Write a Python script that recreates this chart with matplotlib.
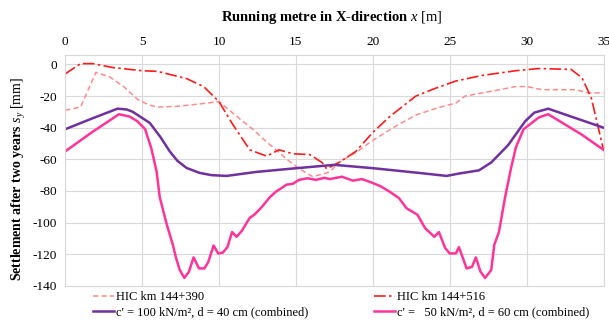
import matplotlib.pyplot as plt

plt.rcParams["font.family"] = ["Liberation Serif", "DejaVu Serif"]
plt.rcParams["mathtext.fontset"] = "custom"
plt.rcParams["mathtext.rm"] = "Liberation Serif"
plt.rcParams["mathtext.it"] = "Liberation Serif:italic"
plt.rcParams["mathtext.bf"] = "Liberation Serif:bold"
plt.rcParams["axes.unicode_minus"] = False

# measured settlements, HIC km 144+390
hic390_x = [0, 1.0, 2.0, 2.9, 3.8, 4.7, 5.4, 6.0, 7.3, 8.75, 10.0, 11.3, 12.2, 13.1,
            14.6, 15.4, 16.1, 17.2, 17.8, 19.0, 20.0, 21.5, 22.8, 24.2, 25.4, 26.0,
            27.7, 29.3, 30.0, 31.0, 33.2, 34.0, 35.0]
hic390_y = [-29, -27, -5, -8, -14, -22, -25.5, -27, -26.5, -25, -23.5, -34, -41, -49,
            -61.5, -67, -71, -68, -62, -55, -48, -39, -32, -27.5, -24.5, -20,
            -17, -14, -14, -16, -16, -18, -18]

# measured settlements, HIC km 144+516
hic516_x = [0, 1.0, 1.8, 3.1, 5.0, 6.0, 7.9, 9.0, 10.0, 10.9, 12.0, 13.1, 13.9, 14.8,
            15.9, 16.7, 17.0, 17.8, 18.9, 20.0, 21.1, 22.8, 24.1, 25.4, 27.1, 29.3,
            30.8, 32.9, 33.6, 34.2, 35.0]
hic516_y = [-6, 0.5, 0.5, -2, -4, -4.4, -9, -14, -23.5, -38, -54, -58, -54, -56.5,
            -57, -62, -66, -62, -55, -43, -33, -20, -15, -10.5, -7, -4,
            -2.6, -3.2, -8.5, -21, -54]

# c' = 100 kN/m2, d = 40 cm
c100_x = [0, 1.8, 2.6, 3.4, 4.0, 4.4, 5.5, 6.2, 6.8, 7.3, 7.9, 8.75, 9.5, 10.5, 12.4,
          14.6, 17.5, 20.0, 23.0, 24.8, 25.6, 26.9, 27.7, 28.8, 29.9, 30.5, 31.4,
          33.2, 35.0]
c100_y = [-41, -34, -31, -28, -28.5, -30, -37, -46, -55, -61, -65.5, -68.6, -70,
          -70.5, -68, -66, -63.5, -65.6, -68.6, -70.5, -69, -67, -62, -51, -36,
          -30.5, -28, -34, -40]

# c' = 50 kN/m2, d = 60 cm
c50_x = [0, 1.8, 3.5, 4.2, 4.7, 5.2, 5.6, 5.95, 6.15, 6.6, 7.0, 7.2, 7.45, 7.75, 8.05,
         8.35, 8.7, 9.05, 9.3, 9.65, 9.95, 10.25, 10.55, 10.85, 11.15, 11.5, 12.0,
         12.3, 12.8, 13.3, 13.7, 14.4, 14.8, 15.2, 15.75, 16.3, 16.85, 17.2, 18.0,
         18.7, 19.3, 20.0, 20.5, 21.1, 21.7, 22.2, 22.9, 23.4, 24.0, 24.3, 24.7,
         25.0, 25.4, 25.6, 26.1, 26.45, 26.7, 27.0, 27.3, 27.7, 27.9, 28.2, 28.6,
         29.0, 29.3, 29.8, 30.8, 31.4, 32.0, 33.6, 35.0]
c50_y = [-55, -42.5, -31.5, -33, -36, -41, -53, -68, -84, -101, -114, -122, -130, -135,
         -131, -122, -129, -129, -125, -114.5, -119.5, -119, -115.5, -106, -109, -105,
         -97, -95, -90, -84, -80.5, -76, -75.5, -73, -72, -73, -71.7, -72.5, -71,
         -73.5, -72.5, -75, -77, -80.5, -84.5, -91, -95, -103.5, -109, -106, -116,
         -119.5, -119.5, -115.5, -129, -128, -122, -131, -135, -130, -114, -106, -84,
         -65, -52.5, -41, -33.5, -31.5, -35, -44.5, -54]

x_ticks = list(range(0, 36, 5))
y_ticks = list(range(-140, 1, 20))

fig = plt.figure(figsize=(6.09, 3.23), dpi=100)
ax = fig.add_axes([0.107, 0.115, 0.884, 0.715])

l1, = ax.plot(hic390_x, hic390_y, color="#FF8C8C", lw=1.1, dashes=(3.5, 2),
              label="HIC km 144+390")
l2, = ax.plot(hic516_x, hic516_y, color="#FF1A1A", lw=1.2, dashes=(7, 2, 1.5, 2),
              label="HIC km 144+516")
l3, = ax.plot(c100_x, c100_y, color="#7030A0", lw=1.8,
              label="c' = 100 kN/m², d = 40 cm (combined)")
l4, = ax.plot(c50_x, c50_y, color="#FF3399", lw=1.8,
              label="c' =   50 kN/m², d = 60 cm (combined)")

ax.set_xlim(0, 35)
ax.set_ylim(-140, 6)
ax.set_xticks(x_ticks)
ax.set_yticks(y_ticks)
ax.xaxis.tick_top()
ax.tick_params(length=0, labelsize=9.5)
ax.tick_params(axis="x", pad=5)
ax.tick_params(axis="y", pad=6)
ax.grid(color="#D9D9D9", lw=0.8)
for s in ax.spines.values():
    s.set_color("#D9D9D9")
    s.set_linewidth(0.8)

fig.text(0.545, 0.945, r"Running metre in X-direction $x$ $\mathrm{[m]}$",
         ha="center", va="center", fontsize=10.5, fontweight="bold")
fig.text(0.032, 0.445, r"Settlement after two years $s_y$ $\mathrm{[mm]}$",
         ha="center", va="center", rotation=90, fontsize=10, fontweight="bold")

# row-wise order: first row HIC curves, second row the calculations
fig.legend([l1, l3, l2, l4], [l.get_label() for l in (l1, l3, l2, l4)],
           loc="upper left", bbox_to_anchor=(0.152, 0.098), ncol=2, frameon=False,
           fontsize=9, handlelength=1.7, handletextpad=0.2, columnspacing=5.2,
           labelspacing=0.25, borderaxespad=0, borderpad=0)

fig.savefig("out.png", dpi=100)
